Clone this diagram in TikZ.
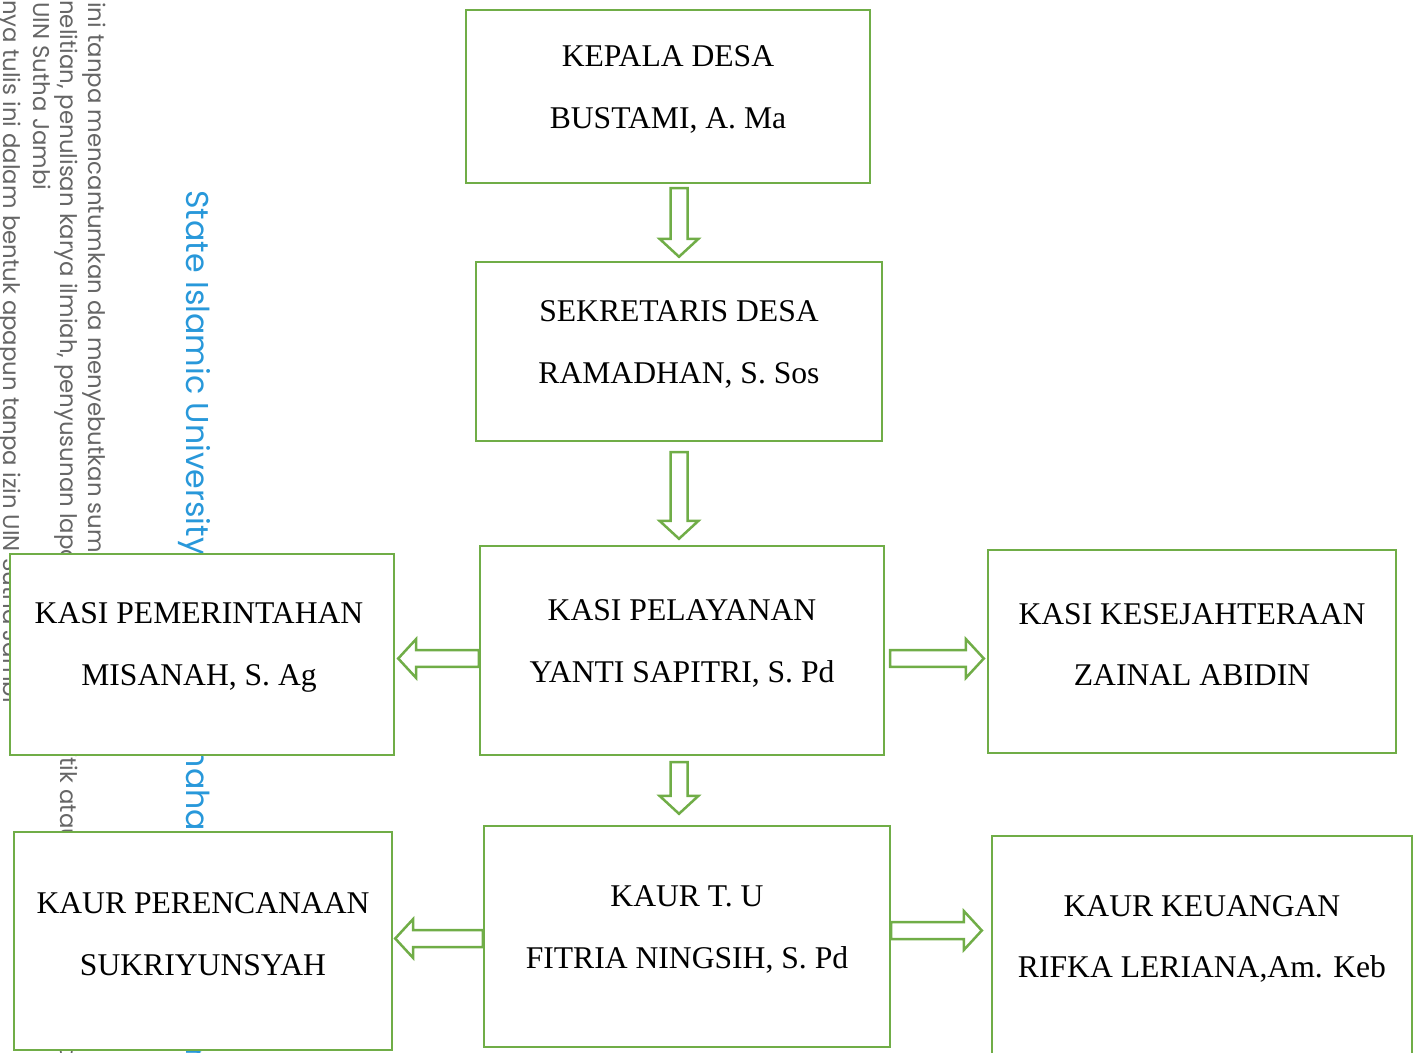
\documentclass[tikz,border=0pt]{standalone}
\usepackage{fontspec}
\setmainfont{Liberation Serif}
\newfontfamily\wmfont{Poppins}
\usetikzlibrary{calc}

\definecolor{boxgreen}{RGB}{112,173,71}
\definecolor{wmblue}{RGB}{40,152,218}

% hollow block arrow from #1 to the tip #2
\newcommand{\blockarrow}[2]{%
  \draw[blockarr] ($(#1)!0.17cm!90:(#2)$)
    -- ($($(#2)!0.36cm!(#1)$)!0.17cm!90:(#2)$)
    -- ($($(#2)!0.36cm!(#1)$)!0.39cm!90:(#2)$)
    -- (#2)
    -- ($($(#2)!0.36cm!(#1)$)!0.39cm!-90:(#2)$)
    -- ($($(#2)!0.36cm!(#1)$)!0.17cm!-90:(#2)$)
    -- ($(#1)!0.17cm!-90:(#2)$) -- cycle;}

\begin{document}
\begin{tikzpicture}[x=0.02cm, y=-0.02cm]

    %styles
    \tikzstyle{box}=[rectangle, draw=boxgreen, line width=0.05cm, fill=white]
    \tikzstyle{txt}=[align=center, yshift=0.14cm, font=\fontsize{18}{35.2}\selectfont]
    \tikzstyle{blockarr}=[draw=boxgreen, line width=0.05cm, fill=white, line join=miter]
    \tikzstyle{wmgray}=[rotate=-90, anchor=base west, inner sep=0, text=black!60, font=\wmfont\fontsize{13}{13}\selectfont]
    \tikzstyle{wmblue}=[rotate=-90, anchor=base west, inner sep=0, text=wmblue, font=\wmfont\fontsize{18}{18}\selectfont]

    \clip (0,0) rectangle (1420,1053);

    % watermark
    \node[wmgray] (wm1) at (88,2) {ini tanpa mencantumkan da menyebutkan sumber asli};
    \node[wmgray] (wm2) at (60,0) {nelitian, penulisan karya ilmiah, penyusunan laporan, penulisan kritik atau tinjauan suatu masalah};
    \node[wmgray] (wm3) at (33,2) {UIN Sutha Jambi};
    \node[wmgray] (wm4) at (4,0) {nya tulis ini dalam bentuk apapun tanpa izin UIN Sutha Jambi};
    \node[wmblue] (wm5) at (186,190) {State Islamic University of Sulthan Thaha Saifuddin Jambi};

    % nodes
    \node[box, minimum width=8.08cm, minimum height=3.46cm] (kepala) at (668,96.5)
        [label={[txt]center:{KEPALA DESA\\BUSTAMI, A. Ma}}] {};
    \node[box, minimum width=8.12cm, minimum height=3.58cm] (sekretaris) at (679,351.5)
        [label={[txt]center:{SEKRETARIS DESA\\RAMADHAN, S. Sos}}] {};
    \node[box, minimum width=8.08cm, minimum height=4.18cm] (pelayanan) at (682,650.5)
        [label={[txt]center:{KASI PELAYANAN\\YANTI SAPITRI, S. Pd}}] {};
    \node[box, minimum width=7.68cm, minimum height=4.02cm] (pemerintahan) at (202,654.5)
        [label={[txt, xshift=-0.06cm]center:{KASI PEMERINTAHAN\\MISANAH, S. Ag}}] {};
    \node[box, minimum width=8.16cm, minimum height=4.06cm] (kesejahteraan) at (1192,651.5)
        [label={[txt]center:{KASI KESEJAHTERAAN\\ZAINAL ABIDIN}}] {};
    \node[box, minimum width=7.56cm, minimum height=4.36cm] (perencanaan) at (203,941)
        [label={[txt]center:{KAUR PERENCANAAN\\SUKRIYUNSYAH}}] {};
    \node[box, minimum width=8.12cm, minimum height=4.42cm] (kaurtu) at (687,936.5)
        [label={[txt]center:{KAUR T. U\\FITRIA NINGSIH, S. Pd}}] {};
    \node[box, minimum width=8.40cm, minimum height=4.40cm] (keuangan) at (1202,946)
        [label={[txt]center:{KAUR KEUANGAN\\RIFKA LERIANA,Am. Keb}}] {};

    % arrow ends
    \coordinate (a1) at ($(kepala.south -| sekretaris.north)+(0,4)$);
    \coordinate (b1) at ($(sekretaris.north)+(0,-4)$);
    \coordinate (a2) at ($(sekretaris.south)+(0,10)$);
    \coordinate (b2) at ($(pelayanan.north -| sekretaris.south)+(0,-6)$);
    \coordinate (a3) at ($(pelayanan.south -| sekretaris.south)+(0,6)$);
    \coordinate (b3) at ($(kaurtu.north -| sekretaris.south)+(0,-11)$);
    \coordinate (a4) at ($(pelayanan.west)+(0,8)$);
    \coordinate (b4) at ($(pemerintahan.east |- a4)+(3,0)$);
    \coordinate (a5) at ($(pelayanan.east)+(5,8)$);
    \coordinate (b5) at ($(kesejahteraan.west |- a5)+(-3,0)$);
    \coordinate (a6) at ($(kaurtu.west)+(0,2)$);
    \coordinate (b6) at ($(perencanaan.east |- a6)+(2,0)$);
    \coordinate (a7) at ($(kaurtu.east)+(0,-6)$);
    \coordinate (b7) at ($(keuangan.west |- a7)+(-9,0)$);

    % arrows
    \blockarrow{a1}{b1}
    \blockarrow{a2}{b2}
    \blockarrow{a3}{b3}
    \blockarrow{a4}{b4}
    \blockarrow{a5}{b5}
    \blockarrow{a6}{b6}
    \blockarrow{a7}{b7}
\end{tikzpicture}
\end{document}
